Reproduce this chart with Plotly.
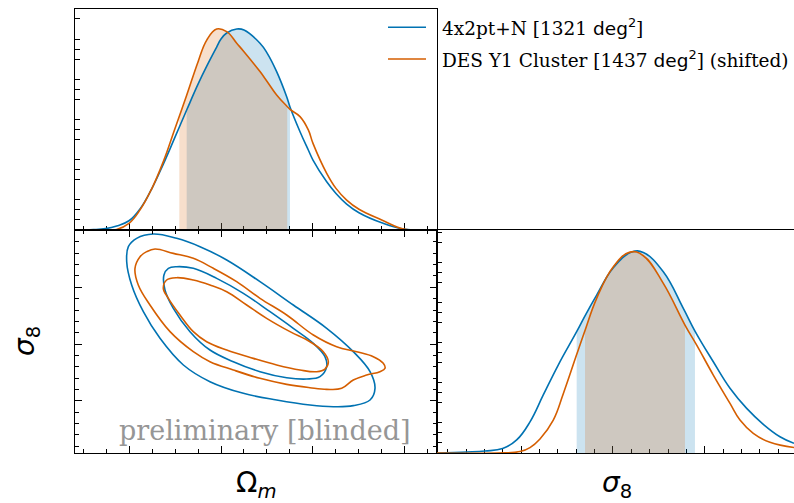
import numpy as np
import plotly.graph_objects as go

# ---- series metadata -------------------------------------------------------
series_names = [
    "4x2pt+N [1321 <span style='font-family:DejaVu Sans'>deg<sup>2</sup></span>]",
    "DES Y1 Cluster [1437 <span style='font-family:DejaVu Sans'>deg<sup>2</sup></span>] (shifted)",
]
line_colors = ["#0072B2", "#D55E00"]
fill_colors = ["rgba(0,114,178,0.2)", "rgba(213,94,0,0.2)"]

# ---- 1D marginal of Omega_m -------------------------------------------------
om_blue_x = [0.1413, 0.1612, 0.1747, 0.1866, 0.2000, 0.2120, 0.2247, 0.2373, 0.2500,
             0.2627, 0.2753, 0.2845, 0.2953, 0.3000, 0.3062, 0.3171, 0.3250, 0.3424,
             0.3503, 0.3605, 0.3714, 0.3750, 0.3859, 0.3949, 0.4000, 0.4149, 0.4250,
             0.4366, 0.4500, 0.4747, 0.5000, 0.5247, 0.5345]
om_blue_p = [0.000, 0.002, 0.007, 0.020, 0.046, 0.105, 0.205, 0.328, 0.462,
             0.597, 0.728, 0.815, 0.910, 0.950, 0.980, 1.000, 0.995, 0.929,
             0.879, 0.788, 0.663, 0.612, 0.489, 0.398, 0.348, 0.240, 0.182,
             0.129, 0.086, 0.036, 0.003, 0.000, 0.000]

om_orng_x = [0.1413, 0.1747, 0.1866, 0.2000, 0.2120, 0.2247, 0.2373, 0.2500, 0.2627,
             0.2753, 0.2845, 0.2953, 0.3062, 0.3171, 0.3250, 0.3424, 0.3503, 0.3605,
             0.3714, 0.3750, 0.3859, 0.3949, 0.4000, 0.4149, 0.4250, 0.4366, 0.4500,
             0.4747, 0.5000, 0.5247, 0.5345]
om_orng_p = [0.000, 0.000, 0.003, 0.033, 0.100, 0.205, 0.340, 0.505, 0.670,
             0.840, 0.945, 1.000, 0.987, 0.929, 0.887, 0.788, 0.738, 0.672,
             0.617, 0.600, 0.564, 0.498, 0.431, 0.282, 0.207, 0.149, 0.103,
             0.050, 0.003, 0.000, 0.000]

om_blue_68 = [0.2627, 0.3750]
om_orng_68 = [0.2547, 0.3720]

# ---- 1D marginal of sigma_8 -------------------------------------------------
s8_blue_x = [0.6077, 0.6405, 0.6604, 0.6797, 0.6950, 0.7095, 0.7240, 0.7403, 0.7604,
             0.7695, 0.7822, 0.8004, 0.8204, 0.8331, 0.8549, 0.8767, 0.8894, 0.9094,
             0.9276, 0.9458, 0.9639, 0.9821, 0.9974]
s8_blue_p = [0.000, 0.005, 0.010, 0.022, 0.065, 0.155, 0.289, 0.438, 0.604,
             0.683, 0.786, 0.922, 1.000, 0.998, 0.902, 0.720, 0.607, 0.454,
             0.322, 0.222, 0.143, 0.081, 0.048]

s8_orng_x = [0.6077, 0.6732, 0.6986, 0.7095, 0.7204, 0.7349, 0.7458, 0.7604, 0.7695,
             0.7822, 0.8004, 0.8185, 0.8331, 0.8549, 0.8785, 0.8913, 0.9094, 0.9276,
             0.9385, 0.9530, 0.9712, 0.9974]
s8_orng_p = [0.000, 0.000, 0.007, 0.027, 0.070, 0.164, 0.295, 0.490, 0.610,
             0.770, 0.927, 1.000, 0.982, 0.844, 0.637, 0.537, 0.388, 0.247,
             0.164, 0.098, 0.053, 0.027]

s8_blue_68 = [0.7604, 0.8894]
s8_orng_68 = [0.7695, 0.8785]

# ---- 2D credible contours (Omega_m, sigma_8) --------------------------------
blue_outer_om = [0.3424, 0.3786, 0.4149, 0.4438, 0.4620, 0.4674, 0.4620, 0.4438, 0.4221,
                 0.3967, 0.3605, 0.3243, 0.2880, 0.2591, 0.2337, 0.2156, 0.2029, 0.1975,
                 0.1993, 0.2083, 0.2264, 0.2518, 0.2772, 0.3062, 0.3424]
blue_outer_s8 = [0.9100, 0.8688, 0.8277, 0.7865, 0.7512, 0.7218, 0.7013, 0.6913, 0.6895,
                 0.6924, 0.7013, 0.7130, 0.7336, 0.7630, 0.8100, 0.8570, 0.9041, 0.9452,
                 0.9717, 0.9864, 0.9940, 0.9864, 0.9717, 0.9482, 0.9100]

blue_inner_om = [0.3243, 0.3533, 0.3786, 0.4004, 0.4130, 0.4149, 0.4076, 0.3931, 0.3714,
                 0.3424, 0.3134, 0.2880, 0.2663, 0.2482, 0.2391, 0.2380, 0.2428, 0.2518,
                 0.2699, 0.2953, 0.3243]
blue_inner_s8 = [0.8894, 0.8570, 0.8277, 0.8012, 0.7777, 0.7600, 0.7424, 0.7383, 0.7406,
                 0.7512, 0.7689, 0.7894, 0.8218, 0.8629, 0.8953, 0.9217, 0.9335, 0.9364,
                 0.9335, 0.9158, 0.8894]

orng_outer_om = [0.3424, 0.3714, 0.4004, 0.4257, 0.4475, 0.4656, 0.4764, 0.4783, 0.4728,
                 0.4583, 0.4438, 0.4312, 0.4149, 0.3967, 0.3714, 0.3424, 0.3134, 0.2880,
                 0.2699, 0.2446, 0.2228, 0.2101, 0.2065, 0.2120, 0.2192, 0.2283, 0.2482,
                 0.2699, 0.2917, 0.3170, 0.3424]
orng_outer_s8 = [0.8806, 0.8512, 0.8159, 0.7953, 0.7865, 0.7777, 0.7659, 0.7571, 0.7512,
                 0.7453, 0.7365, 0.7218, 0.7201, 0.7230, 0.7289, 0.7395, 0.7542, 0.7689,
                 0.7865, 0.8218, 0.8688, 0.9041, 0.9335, 0.9541, 0.9629, 0.9676, 0.9599,
                 0.9511, 0.9335, 0.9100, 0.8806]

orng_inner_om = [0.3279, 0.3496, 0.3750, 0.3967, 0.4112, 0.4167, 0.4130, 0.4040, 0.3859,
                 0.3605, 0.3351, 0.3062, 0.2844, 0.2699, 0.2554, 0.2428, 0.2373, 0.2409,
                 0.2518, 0.2699, 0.2880, 0.3062, 0.3279]
orng_inner_s8 = [0.8688, 0.8453, 0.8218, 0.8041, 0.7865, 0.7689, 0.7559, 0.7512, 0.7542,
                 0.7630, 0.7747, 0.7894, 0.8041, 0.8218, 0.8512, 0.8806, 0.8982, 0.9129,
                 0.9170, 0.9129, 0.9041, 0.8923, 0.8688]

# ---- axis ranges --------------------------------------------------------------
om_range = [0.1413, 0.5348]
s8_range_y = [0.6078, 1.0011]
s8_range_x = [0.6081, 0.9974]
pdf_range_top = [0, 1.0995]
pdf_range_right = [0, 1.11]

W, H = 794, 503


def band(x, p, lims):
    """Points of a marginal restricted to its 68% interval."""
    lo, hi = lims
    xs = [lo] + [v for v in x if lo < v < hi] + [hi]
    ys = np.interp(xs, x, p)
    return xs, list(ys)


fig = go.Figure()

# marginal fills
for xa, ya, data, lims in [
    ("x", "y", [(om_blue_x, om_blue_p), (om_orng_x, om_orng_p)], [om_blue_68, om_orng_68]),
    ("x3", "y3", [(s8_blue_x, s8_blue_p), (s8_orng_x, s8_orng_p)], [s8_blue_68, s8_orng_68]),
]:
    for i, ((x, p), lim) in enumerate(zip(data, lims)):
        bx, by = band(x, p, lim)
        fig.add_trace(go.Scatter(x=bx, y=by, xaxis=xa, yaxis=ya, mode="lines",
                                 line=dict(width=0, shape="spline", smoothing=1.2),
                                 fill="tozeroy", fillcolor=fill_colors[i],
                                 hoverinfo="skip", showlegend=False))

# marginal curves
for xa, ya, data in [
    ("x", "y", [(om_blue_x, om_blue_p), (om_orng_x, om_orng_p)]),
    ("x3", "y3", [(s8_blue_x, s8_blue_p), (s8_orng_x, s8_orng_p)]),
]:
    for i, (x, p) in enumerate(data):
        fig.add_trace(go.Scatter(x=x, y=p, xaxis=xa, yaxis=ya, mode="lines",
                                 line=dict(color=line_colors[i], width=1.6, shape="spline",
                                           smoothing=1.2),
                                 showlegend=False))

# 2D contours
for i, loops in enumerate([
    [(blue_outer_om, blue_outer_s8), (blue_inner_om, blue_inner_s8)],
    [(orng_outer_om, orng_outer_s8), (orng_inner_om, orng_inner_s8)],
]):
    for om, s8 in loops:
        fig.add_trace(go.Scatter(x=om, y=s8, xaxis="x2", yaxis="y2", mode="lines",
                                 line=dict(color=line_colors[i], width=1.6, shape="spline",
                                           smoothing=1.1),
                                 showlegend=False))

# panel placement in pixels
left, mid, right_edge = 75, 437, 794
top, row, bottom = 9, 230, 453
px = lambda v: v / W
py = lambda v: 1 - v / H

axis_common = dict(showgrid=False, zeroline=False, showticklabels=False,
                   showline=True, linecolor="black", linewidth=1,
                   ticks="inside", tickcolor="black", tickwidth=1)

fig.update_layout(
    width=W, height=H,
    margin=dict(l=0, r=0, t=0, b=0),
    paper_bgcolor="white", plot_bgcolor="white",
    showlegend=False,
    xaxis=dict(axis_common, domain=[px(left), px(mid)], range=om_range, anchor="y",
               mirror=True, tick0=0, dtick=0.1, ticklen=7,
               minor=dict(ticks="inside", tick0=0, dtick=0.025, ticklen=4,
                          tickcolor="black"), layer="below traces"),
    yaxis=dict(axis_common, domain=[py(row), py(top)], range=pdf_range_top, anchor="x",
               mirror=True, tick0=0, dtick=0.2, ticklen=0,
               minor=dict(ticks="inside", tick0=0, dtick=0.05, ticklen=5,
                          tickcolor="black"), layer="below traces"),
    xaxis2=dict(axis_common, domain=[px(left), px(mid)], range=om_range, anchor="y2",
                mirror="ticks", tick0=0, dtick=0.1, ticklen=7,
                minor=dict(ticks="inside", tick0=0, dtick=0.025, ticklen=4,
                           tickcolor="black")),
    yaxis2=dict(axis_common, domain=[py(bottom), py(row)], range=s8_range_y, anchor="x2",
                mirror="ticks", tick0=0, dtick=0.1, ticklen=7,
                minor=dict(ticks="inside", tick0=0, dtick=0.02, ticklen=4,
                           tickcolor="black")),
    xaxis3=dict(axis_common, domain=[px(mid), 1.0], range=s8_range_x, anchor="y3",
                mirror=True, tick0=0, dtick=0.1, ticklen=7,
                minor=dict(ticks="inside", tick0=0, dtick=0.02, ticklen=4,
                           tickcolor="black"), layer="below traces"),
    yaxis3=dict(axis_common, domain=[py(bottom), py(row)], range=pdf_range_right,
                anchor="x3", mirror=False, tick0=0, dtick=0.2, ticklen=0,
                minor=dict(ticks="inside", tick0=0, dtick=0.05, ticklen=5,
                           tickcolor="black"), layer="below traces"),
)

# legend drawn as line samples with labels
legend_rows = [27.3, 59.0]
for i, name in enumerate(series_names):
    fig.add_shape(type="line", xref="paper", yref="paper",
                  x0=px(388), x1=px(426), y0=py(legend_rows[i]), y1=py(legend_rows[i]),
                  line=dict(color=line_colors[i], width=1.6))
    fig.add_annotation(x=px(440), y=py(legend_rows[i]), xref="paper", yref="paper",
                       text=name, showarrow=False, xanchor="left", yanchor="middle",
                       font=dict(family="DejaVu Serif", size=18.5, color="black"))

# watermark
fig.add_annotation(x=px(264), y=py(430), xref="paper", yref="paper",
                   text="preliminary [blinded]", showarrow=False,
                   xanchor="center", yanchor="middle",
                   font=dict(family="DejaVu Serif", size=27, color="#969696"))

# axis labels
label_font = dict(family="DejaVu Sans", size=28, color="black")
fig.add_annotation(x=px(256), y=py(484), xref="paper", yref="paper",
                   text="Ω<sub><i>m</i></sub>", showarrow=False,
                   xanchor="center", yanchor="middle", font=label_font)
fig.add_annotation(x=px(617), y=py(484), xref="paper", yref="paper",
                   text="<i>σ</i><sub>8</sub>", showarrow=False,
                   xanchor="center", yanchor="middle", font=label_font)
fig.add_annotation(x=px(26), y=py(341), xref="paper", yref="paper",
                   text="<i>σ</i><sub>8</sub>", showarrow=False, textangle=-90,
                   xanchor="center", yanchor="middle", font=label_font)

fig.write_html("out.html")
